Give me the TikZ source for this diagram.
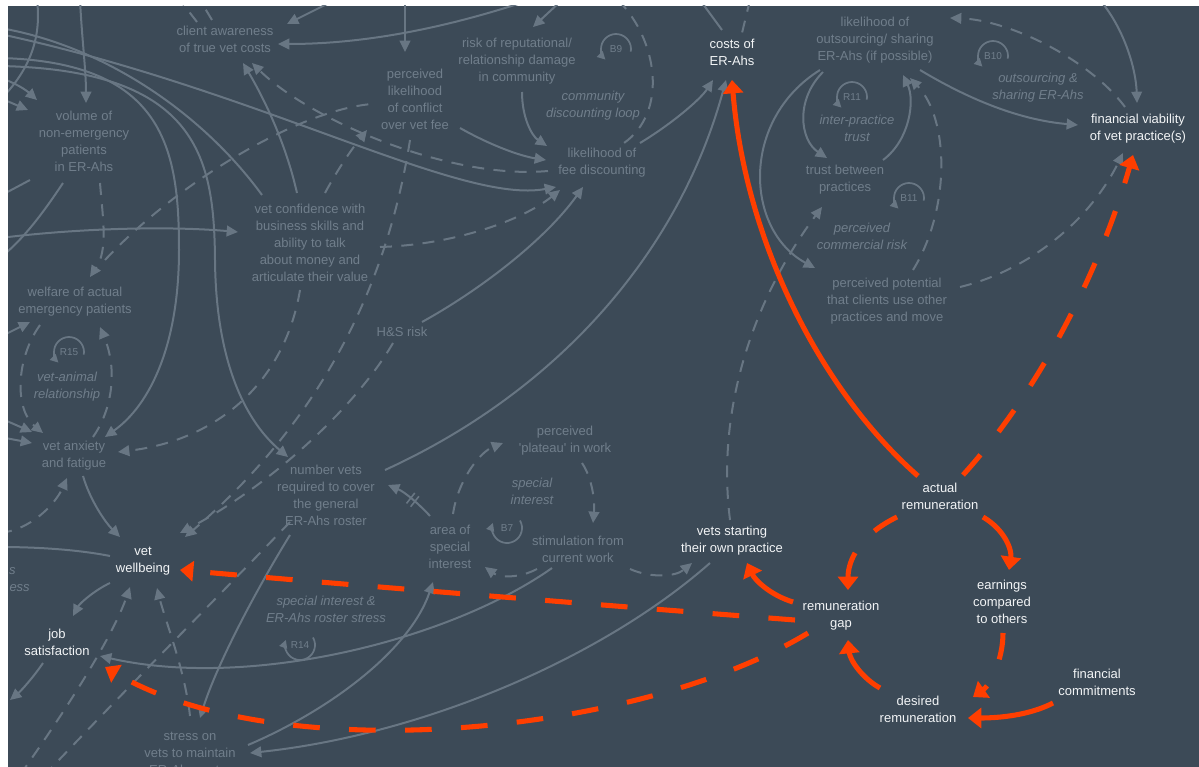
\documentclass[tikz,border=0pt]{standalone}
\usepackage{fontspec}
\setmainfont{Liberation Sans}
\usetikzlibrary{arrows.meta,calc,decorations.markings}
\definecolor{bg}{RGB}{60,74,87}
\definecolor{ln}{RGB}{104,118,131}
\definecolor{gt}{RGB}{112,126,139}
\definecolor{org}{RGB}{255,62,0}
\definecolor{wt}{RGB}{242,244,246}
\tikzset{
  lbl/.style={align=center, inner sep=0pt, font=\fontsize{9.75}{12.75}\selectfont},
  wlbl/.style={lbl, text=wt},
  glbl/.style={lbl, text=gt},
  ilbl/.style={lbl, text=gt, font=\fontsize{9.75}{12.75}\selectfont\itshape},
  gline/.style={draw=ln, line width=1.5pt},
  garr/.style={gline, -{Triangle[length=8.5pt,width=8pt]}},
  gdash/.style={dash pattern=on 9pt off 7pt},
  oline/.style={draw=org, line width=3.8pt},
  oarr/.style={oline, -{Triangle[length=10pt,width=15pt]}},
  odash/.style={dash pattern=on 20pt off 22pt},
  loopnum/.style={text=gt, font=\fontsize{7.5}{9}\selectfont, inner sep=0pt},
  looparc/.style={draw=ln, line width=1.3pt, -{Triangle[length=6pt,width=6pt]}},
}
\begin{document}
\begin{tikzpicture}[x=0.75pt,y=-0.75pt]
\useasboundingbox (0,0) rectangle (1199,767);
\fill[white] (0,0) rectangle (1199,767);
\fill[bg] (8,6) rectangle (1199,767);
\begin{scope}
\clip (8,6) rectangle (1199,767);

% free ends of connectors leaving the frame
\coordinate (e1) at (37,0);   \coordinate (e2) at (0,100);
\coordinate (e3) at (80,0);   \coordinate (e4) at (0,78);
\coordinate (e5) at (0,98);   \coordinate (e6) at (0,28);
\coordinate (e7) at (0,34);   \coordinate (e8) at (0,58);
\coordinate (e9) at (0,66);   \coordinate (e10) at (0,238);
\coordinate (e11) at (0,258); \coordinate (e12) at (0,196);
\coordinate (e13) at (530,0); \coordinate (e14) at (335,0);
\coordinate (e15) at (180,0); \coordinate (e16) at (200,0);
\coordinate (e17) at (405,0); \coordinate (e18) at (562,0);
\coordinate (e19) at (618,0); \coordinate (e20) at (0,337);
\coordinate (e21) at (0,418); \coordinate (e22) at (0,437);
\coordinate (e23) at (0,533); \coordinate (e24) at (0,547);
\coordinate (e25) at (10,700);\coordinate (e26) at (20,775);
\coordinate (e27) at (40,780);\coordinate (e28) at (1100,0);
\coordinate (e29) at (700,0); \coordinate (e30) at (750,0);

% highlighted variables
\node[wlbl] (cost) at (732,52) {costs of\\ER-Ahs};
\node[wlbl] (fin) at (1138,129) {financial viability\\of vet practice(s)};
\node[wlbl] (act) at (940,496) {actual\\remuneration};
\node[wlbl] (vsp) at (732,541) {vets starting\\their own practice};
\node[wlbl] (vwb) at (143,561) {vet\\wellbeing};
\node[wlbl] (job) at (57,642) {job\\satisfaction};
\node[wlbl] (gap) at (841,616) {remuneration\\gap};
\node[wlbl] (earn) at (1002,602) {earnings\\compared\\to others};
\node[wlbl] (fcom) at (1097,682) {financial\\commitments};
\node[wlbl] (des) at (918,709) {desired\\remuneration};

% background variables
\node[glbl] (client) at (225,39) {client awareness\\of true vet costs};
\node[glbl] (perc) at (415,99) {perceived\\likelihood\\of conflict\\over vet fee};
\node[glbl] (risk) at (517,61) {risk of reputational/\\relationship damage\\in community};
\node[ilbl] (cdl) at (593,106) {community\\discounting loop};
\node[glbl] (feed) at (602,163) {likelihood of\\fee discounting};
\node[glbl] (outs) at (875,40) {likelihood of\\outsourcing/ sharing\\ER-Ahs (if possible)};
\node[ilbl] (osl) at (1038,88) {outsourcing \&\\sharing ER-Ahs};
\node[ilbl] (ipt) at (857,128) {inter-practice\\trust};
\node[glbl] (tbp) at (845,180) {trust between\\practices};
\node[ilbl] (pcr) at (862,236) {perceived\\commercial risk};
\node[glbl] (ppot) at (887,301) {perceived potential\\that clients use other\\practices and move};
\node[glbl] (vol) at (84,141) {volume of\\non-emergency\\patients\\in ER-Ahs};
\node[glbl] (conf) at (310,243) {vet confidence with\\business skills and\\ability to talk\\about money and\\articulate their value};
\node[glbl] (welf) at (75,302) {welfare of actual\\emergency patients};
\node[ilbl] (vam) at (67,387) {vet-animal\\relationship};
\node[glbl] (hs) at (402,332) {H\&S risk};
\node[glbl] (anx) at (74,456) {vet anxiety\\and fatigue};
\node[glbl] (nvr) at (326,495) {number vets\\required to cover\\the general\\ER-Ahs roster};
\node[glbl] (plat) at (565,441) {perceived\\\textquotesingle plateau\textquotesingle\ in work};
\node[ilbl] (sin) at (532,491) {special\\interest};
\node[glbl] (aosi) at (450,547) {area of\\special\\interest};
\node[glbl] (stim) at (578,549) {stimulation from\\current work};
\node[ilbl] (sirs) at (326,609) {special interest \&\\ER-Ahs roster stress};
\node[glbl] (stress) at (190,753) {stress on\\vets to maintain\\ER-Ahs roster};
\node[ilbl, anchor=east] (frag1) at (16,571) {s};
\node[ilbl, anchor=east] (frag2) at (30,588) {ess};

% loop markers
\node[loopnum] (lb9) at (616,49) {B9};
\draw[looparc] (lb9.center) ++(10:15) arc[start angle=10,end angle=-225,radius=15];
\node[loopnum] (lb10) at (993,56) {B10};
\draw[looparc] (lb10.center) ++(10:15) arc[start angle=10,end angle=-225,radius=15];
\node[loopnum] (lr11) at (852,97) {R11};
\draw[looparc] (lr11.center) ++(10:15) arc[start angle=10,end angle=-225,radius=15];
\node[loopnum] (lb11) at (909,198) {B11};
\draw[looparc] (lb11.center) ++(10:15) arc[start angle=10,end angle=-225,radius=15];
\node[loopnum] (lr15) at (69,352) {R15};
\draw[looparc] (lr15.center) ++(10:15) arc[start angle=10,end angle=-225,radius=15];
\node[loopnum] (lb7) at (507,528) {B7};
\draw[looparc] (lb7.center) ++(-30:15) arc[start angle=-30,end angle=200,radius=15];
\node[loopnum] (lr14) at (300,645) {R14};
\draw[looparc] (lr14.center) ++(-30:15) arc[start angle=-30,end angle=200,radius=15];

% grey links, upper left
\draw[gline] (e1) .. controls (42,40) and (28,72) .. (e2);
\draw[garr] (e3) .. controls (82,40) and (86,70) .. ($(vol)+(2,-38)$);
\draw[garr] (e4) .. controls (14,82) and (26,90) .. ($(vol)+(-47,-41)$);
\draw[garr] (e5) -- ($(vol)+(-56,-31)$);
\draw[gline] ($(conf)+(-48,-48)$) .. controls (200,110) and (100,45) .. (e6);
\draw[garr] (e7) .. controls (260,90) and (460,205) .. ($(feed)+(-46,24)$);
\draw[garr] (e8) .. controls (165,62) and (179,150) .. (179,250) .. controls (179,345) and (150,405) .. ($(anx)+(31,-19)$);
\draw[garr] (e9) .. controls (200,70) and (214,160) .. (215,260) .. controls (216,370) and (250,425) .. ($(nvr)+(-38,-38)$);
\draw[garr] (e10) .. controls (80,228) and (170,226) .. ($(conf)+(-72,-11)$);
\draw[gline] ($(vol)+(-21,42)$) .. controls (45,210) and (25,238) .. (e11);
\draw[gline] ($(vol)+(-54,39)$) -- (e12);
\draw[garr,gdash] ($(vol)+(16,42)$) .. controls (103,220) and (108,250) .. ($(welf)+(15,-25)$);
\draw[gline,gdash] ($(welf)+(30,-42)$) .. controls (180,180) and (300,110) .. ($(perc)+(-43,5)$);
\draw[garr,gdash] ($(conf)+(15,-50)$) .. controls (340,165) and (355,145) .. ($(perc)+(-48,31)$);
\draw[garr] ($(conf)+(-13,-50)$) .. controls (285,140) and (262,95) .. ($(client)+(18,24)$);
\draw[garr,gdash] ($(feed)+(-54,8)$) .. controls (450,180) and (310,120) .. ($(client)+(27,24)$);
\draw[garr] (e13) .. controls (440,30) and (360,44) .. ($(client)+(53,5)$);
\draw[garr] (e14) -- ($(client)+(62,-15)$);
\draw[gline,gdash] ($(client)+(-28,-17)$) -- (e15);
\draw[gline,gdash] ($(client)+(-13,-19)$) -- (e16);

% grey links, upper middle
\draw[garr] (e17) -- ($(perc)+(-10,-47)$);
\draw[garr] (e18) -- ($(risk)+(16,-34)$);
\draw[gline,gdash] (e19) .. controls (658,40) and (668,112) .. ($(feed)+(22,-20)$);
\draw[garr] ($(risk)+(5,31)$) .. controls (522,118) and (532,136) .. ($(feed)+(-55,-17)$);
\draw[garr] ($(perc)+(45,29)$) .. controls (490,145) and (520,156) .. ($(feed)+(-56,-3)$);
\draw[garr] ($(feed)+(38,-20)$) .. controls (670,125) and (700,100) .. ($(cost)+(-19,28)$);
\draw[garr] ($(nvr)+(59,-25)$) .. controls (560,390) and (680,250) .. ($(cost)+(-6,28)$);
\draw[garr] ($(hs)+(20,-10)$) .. controls (480,290) and (545,240) .. ($(feed)+(-19,24)$);
\draw[garr,gdash] ($(conf)+(70,4)$) .. controls (450,245) and (520,222) .. ($(feed)+(-42,27)$);
\draw[garr,gdash] ($(perc)+(-5,41)$) .. controls (385,300) and (310,430) .. ($(vwb)+(42,-24)$);
\draw[garr,gdash] ($(hs)+(-9,11)$) .. controls (360,400) and (280,480) .. ($(vwb)+(37,-28)$);
\draw[garr,gdash] ($(conf)+(-10,47)$) .. controls (285,380) and (220,440) .. ($(anx)+(44,-4)$);
\draw[gline] (e29) -- ($(cost)+(-10,-22)$);
\draw[gline,gdash] (e30) -- ($(cost)+(10,-19)$);

% grey links, left side
\draw[garr] (e20) -- ($(welf)+(-45,20)$);
\draw[garr] (e21) -- ($(anx)+(-42,-24)$);
\draw[garr] (e22) -- ($(anx)+(-42,-13)$);
\draw[garr,gdash] ($(welf)+(-35,23)$) .. controls (15,360) and (15,410) .. ($(anx)+(-31,-23)$);
\draw[garr,gdash] ($(anx)+(19,-19)$) .. controls (112,410) and (118,370) .. ($(welf)+(25,25)$);
\draw[garr] ($(anx)+(9,20)$) .. controls (90,500) and (105,522) .. ($(vwb)+(-23,-24)$);
\draw[garr,gdash] (e23) .. controls (30,530) and (55,505) .. ($(anx)+(-7,22)$);
\draw[gline] ($(vwb)+(-33,-5)$) .. controls (80,550) and (40,547) .. (e24);
\draw[garr] ($(vwb)+(-33,22)$) .. controls (95,590) and (80,603) .. ($(job)+(16,-26)$);
\draw[garr] ($(job)+(-14,21)$) .. controls (35,675) and (22,690) .. (e25);
\draw[garr,gdash] (e26) .. controls (80,690) and (115,630) .. ($(vwb)+(-13,26)$);
\draw[garr,gdash] ($(stress)+(0,-37)$) .. controls (185,670) and (165,620) .. ($(vwb)+(14,27)$);
\draw[gline,gdash] ($(nvr)+(-36,27)$) .. controls (210,605) and (120,695) .. (e27);

% grey links, lower middle
\draw[garr] ($(nvr)+(-36,40)$) .. controls (250,600) and (215,670) .. ($(stress)+(10,-35)$);
\draw[garr] ($(stress)+(58,-8)$) .. controls (330,710) and (410,650) .. ($(aosi)+(-17,35)$);
\draw[garr] ($(stim)+(-26,19)$) .. controls (450,640) and (250,690) .. ($(job)+(43,14)$);
\draw[garr] ($(vsp)+(-22,22)$) .. controls (600,660) and (420,735) .. ($(stress)+(60,0)$);
\draw[garr] ($(aosi)+(-20,-31)$) .. controls (420,505) and (405,492) .. ($(nvr)+(62,-10)$);
\path[decorate, decoration={markings, mark=at position 0.45 with {\draw[ln,line width=1.2pt] (-2pt,-5pt)--(-2pt,5pt) (2pt,-5pt)--(2pt,5pt);}}]
  ($(aosi)+(-20,-31)$) .. controls (420,505) and (405,492) .. ($(nvr)+(62,-10)$);
\draw[garr,gdash] ($(aosi)+(3,-33)$) .. controls (458,480) and (480,452) .. ($(plat)+(-62,2)$);
\draw[garr,gdash] ($(plat)+(17,22)$) .. controls (592,478) and (595,500) .. ($(stim)+(15,-26)$);
\draw[garr,gdash] ($(stim)+(-41,20)$) .. controls (520,578) and (500,578) .. ($(aosi)+(35,20)$);
\draw[garr,gdash] ($(stim)+(52,20)$) .. controls (650,578) and (675,577) .. ($(vsp)+(-40,22)$);
\draw[garr,gdash] ($(vsp)+(-2,-21)$) .. controls (715,400) and (760,290) .. ($(tbp)+(-23,27)$);

% grey links, upper right
\draw[garr] (e28) .. controls (1125,30) and (1136,70) .. ($(fin)+(-1,-26)$);
\draw[garr,gdash] ($(fin)+(-13,-22)$) .. controls (1090,60) and (1010,20) .. ($(outs)+(75,-22)$);
\draw[garr] ($(outs)+(45,30)$) .. controls (970,100) and (1020,120) .. ($(fin)+(-60,-4)$);
\draw[garr] ($(outs)+(-52,32)$) .. controls (795,100) and (800,140) .. ($(tbp)+(-18,-22)$);
\draw[garr] ($(tbp)+(38,-20)$) .. controls (910,140) and (915,100) .. ($(outs)+(28,35)$);
\draw[garr] ($(outs)+(-55,30)$) .. controls (740,120) and (745,230) .. ($(ppot)+(-72,-33)$);
\draw[garr,gdash] ($(ppot)+(26,-31)$) .. controls (950,210) and (950,120) .. ($(outs)+(35,38)$);
\draw[garr,gdash] ($(ppot)+(73,-14)$) .. controls (1030,270) and (1090,220) .. ($(fin)+(-15,24)$);

% remuneration links
\draw[oarr] ($(act)+(-22,-20)$) .. controls (820,390) and (745,240) .. ($(cost)+(0,28)$);
\draw[oarr,odash] ($(act)+(23,-21)$) .. controls (1040,390) and (1100,270) .. ($(fin)+(-5,26)$);
\draw[oarr,odash] ($(act)+(-43,21)$) .. controls (860,535) and (848,560) .. ($(gap)+(7,-26)$);
\draw[oarr] ($(act)+(43,21)$) .. controls (1005,530) and (1012,550) .. ($(earn)+(7,-32)$);
\draw[oarr,odash] ($(earn)+(1,31)$) .. controls (1003,660) and (990,685) .. ($(des)+(55,-12)$);
\draw[oarr] ($(fcom)+(-44,21)$) .. controls (1030,715) and (1000,718) .. ($(des)+(50,9)$);
\draw[oarr] ($(des)+(-38,-21)$) .. controls (862,678) and (850,660) .. ($(gap)+(7,24)$);
\draw[oarr] ($(gap)+(-48,-14)$) .. controls (770,595) and (755,580) .. ($(vsp)+(15,22)$);
\draw[oarr,odash] ($(gap)+(-46,4)$) .. controls (600,605) and (350,585) .. ($(vwb)+(37,9)$);
\draw[oarr,odash] ($(gap)+(-33,17)$) .. controls (640,735) and (280,770) .. ($(job)+(48,25)$);
\end{scope}
\end{tikzpicture}
\end{document}
